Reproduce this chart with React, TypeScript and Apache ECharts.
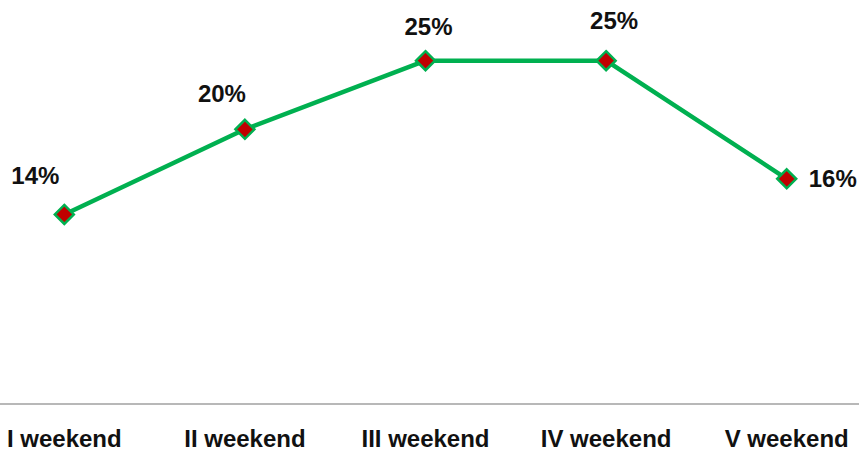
import React, { useEffect, useRef } from "react";
import * as echarts from "echarts";

const categories = ["I weekend", "II weekend", "III weekend", "IV weekend", "V weekend"];
const values = [13.8, 20, 25, 25, 16.4];
const labelOffsets: [number, number][] = [[-29, -39], [-23, -36], [3, -34], [8, -40], [46, 0]];

const FONT = "'Liberation Sans Narrow', 'Arial Narrow', 'Liberation Sans', sans-serif";

export default function App() {
  const ref = useRef<HTMLDivElement>(null);
  useEffect(() => {
    document.body.style.margin = "0";
    const chart = echarts.init(ref.current!, undefined, { renderer: "svg" });
    chart.setOption({
      animation: false,
      backgroundColor: "#ffffff",
      grid: { left: 0, right: 0, top: 0, bottom: 45, containLabel: false },
      xAxis: {
        type: "category",
        data: categories,
        boundaryGap: true,
        axisLine: { show: true, lineStyle: { color: "#a0a0a0", width: 1.5 } },
        axisTick: { show: false },
        axisLabel: {
          color: "#111111",
          fontFamily: FONT,
          fontWeight: "bold",
          fontSize: 24,
          margin: 22,
        },
        splitLine: { show: false },
      },
      yAxis: {
        type: "value",
        min: 0,
        max: 30,
        show: false,
        splitLine: { show: false },
      },
      series: [
        {
          type: "line",
          data: values.map((v, i) => ({
            value: v,
            label: { offset: labelOffsets[i] },
          })),
          lineStyle: { color: "#00b050", width: 4.5 },
          symbol: "diamond",
          symbolSize: 19,
          itemStyle: { color: "#c00000", borderColor: "#00b050", borderWidth: 2.5 },
          label: {
            show: true,
            position: "inside",
            color: "#111111",
            fontFamily: FONT,
            fontWeight: "bold",
            fontSize: 24,
            formatter: (p: any) => Math.round(p.value) + "%",
          },
          z: 3,
        },
      ],
    });
    return () => chart.dispose();
  }, []);
  return (
    <div style={{ width: 859, height: 450, position: "absolute", left: 0, top: 0, overflow: "hidden", background: "#fff" }}>
      <div ref={ref} style={{ width: 903, height: 458, position: "absolute", left: -26, top: -8 }} />
    </div>
  );
}
